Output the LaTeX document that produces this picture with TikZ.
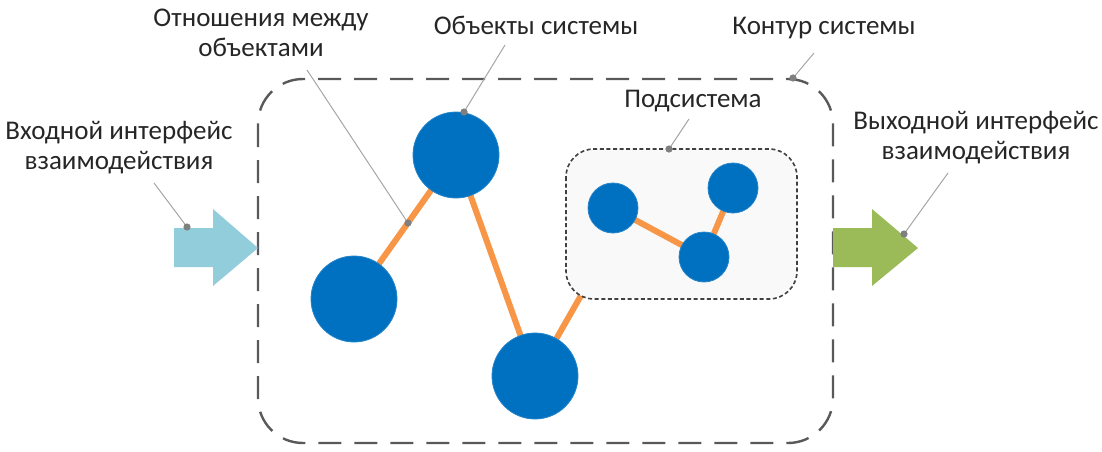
\documentclass[tikz,border=0pt]{standalone}
\usepackage{fontspec}
\setmainfont{Carlito}
\definecolor{objblue}{HTML}{0070C0}
\definecolor{relorange}{HTML}{F79646}
\definecolor{inblue}{HTML}{92CDDC}
\definecolor{outgreen}{HTML}{9BBB59}
\definecolor{contour}{HTML}{595959}
\definecolor{subline}{HTML}{404040}
\definecolor{subfill}{HTML}{F9F9F9}
\definecolor{hintline}{HTML}{A6A6A6}
\definecolor{hintdot}{HTML}{7F7F7F}
\definecolor{txt}{HTML}{262626}
\tikzset{
  bigobj/.style={circle,fill=objblue,draw=objblue!85!white,line width=0.8pt,minimum size=86pt,inner sep=0pt},
  smallobj/.style={circle,fill=objblue,draw=objblue!85!white,line width=0.8pt,minimum size=50pt,inner sep=0pt},
  relation/.style={draw=relorange,line width=6pt},
  outerbox/.style={draw=contour,line width=2.4pt,dash pattern=on 23pt off 13pt,rounded corners=45pt},
  subbox/.style={draw=subline,fill=subfill,line width=1.6pt,dash pattern=on 4pt off 2.6pt,rounded corners=28pt},
  hint/.style={draw=hintline,line width=1pt},
  hintdotst/.style={fill=hintdot},
  lbl/.style={text=txt,font=\fontsize{27}{30}\selectfont,align=center,inner sep=0pt}
}
\begin{document}
\begin{tikzpicture}[x=1pt,y=-1pt]
\useasboundingbox (0,0) rectangle (1102,452);
% positions of objects
\coordinate (pA) at (354,299);
\coordinate (pB) at (456,155);
\coordinate (pC) at (535,376);
\coordinate (pS1) at (613,208);
\coordinate (pS2) at (733,188);
\coordinate (pS3) at (704,257);
\coordinate (subcorner) at (583,292);
% relations (drawn first so objects cover the ends)
\draw[relation] (pA) -- (pB);
\draw[relation] (pB) -- (pC);
\draw[relation] (pC) -- (subcorner);
% outer system contour
\draw[outerbox] (258,79) rectangle (833,443);
% subsystem
\draw[subbox] (566,149) rectangle (797,299);
\draw[relation] (pS1) -- (pS3);
\draw[relation] (pS3) -- (pS2);
% objects
\node[bigobj] (objA) at (pA) {};
\node[bigobj] (objB) at (pB) {};
\node[bigobj] (objC) at (pC) {};
\node[smallobj] (sub1) at (pS1) {};
\node[smallobj] (sub2) at (pS2) {};
\node[smallobj] (sub3) at (pS3) {};
% interface arrows
\fill[inblue] (174,228) -- (213,228) -- (213,209) -- (258,248) -- (213,286) -- (213,267) -- (174,267) -- cycle;
\fill[outgreen] (833,228) -- (872,228) -- (872,209) -- (918,248) -- (872,286) -- (872,267) -- (833,267) -- cycle;
% labels
\node[lbl] (lblIn) at (119,148) {Входной интерфейс\\взаимодействия};
\node[lbl] (lblRel) at (261,33) {Отношения между\\объектами};
\node[lbl] (lblObj) at (536,25) {Объекты системы};
\node[lbl] (lblCont) at (824,28) {Контур системы};
\node[lbl] (lblSub) at (693,101) {Подсистема};
\node[lbl] (lblOut) at (976,138) {Выходной интерфейс\\взаимодействия};
% hint anchors
\coordinate (hIn0) at (154,183);
\coordinate (hIn) at (187,227);
\coordinate (hRel0) at (307,70);
\coordinate (hRel) at (408,223);
\coordinate (hObj0) at (505,45);
\coordinate (hObj) at (464,112);
\coordinate (hCont0) at (814,53);
\coordinate (hCont) at (793,78);
\coordinate (hSub0) at (689,119);
\coordinate (hSub) at (669,149);
\coordinate (hOut0) at (948,173);
\coordinate (hOut) at (904,234);
\foreach \h in {In,Rel,Obj,Cont,Sub,Out}{
  \draw[hint] (h\h0) -- (h\h);
  \fill[hintdotst] (h\h) circle (3.6pt);
}
\end{tikzpicture}
\end{document}
